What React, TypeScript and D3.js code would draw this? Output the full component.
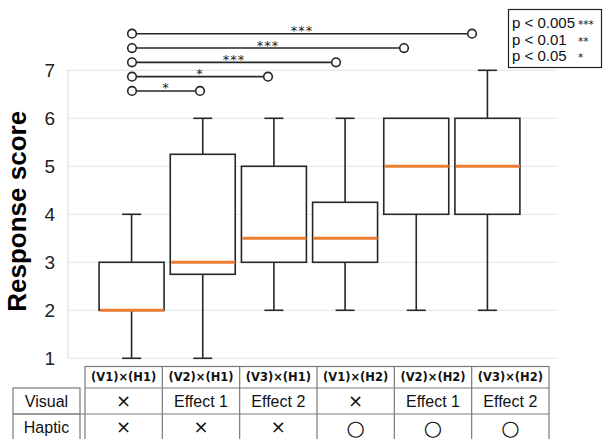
import React from "react";
import * as d3 from "d3";

const categories = ["(V1)×(H1)", "(V2)×(H1)", "(V3)×(H1)", "(V1)×(H2)", "(V2)×(H2)", "(V3)×(H2)"];
const mins = [1, 1, 2, 2, 2, 2];
const q1s = [2, 2.75, 3, 3, 4, 4];
const medians = [2, 3, 3.5, 3.5, 5, 5];
const q3s = [3, 5.25, 5, 4.25, 6, 6];
const maxs = [4, 6, 6, 6, 6, 7];
const yTicks = [1, 2, 3, 4, 5, 6, 7];
const visualRow = ["×", "Effect 1", "Effect 2", "×", "Effect 1", "Effect 2"];
const hapticRow = ["×", "×", "×", "○", "○", "○"];
const bracketTargets = [1, 2, 3, 4, 5];
const bracketLabels = ["*", "*", "***", "***", "***"];
const legendLabels = ["p < 0.005", "p < 0.01", "p < 0.05"];
const legendStars = ["***", "**", "*"];

const W = 603;
const H = 439;
const FONT = "'Liberation Sans', Arial, sans-serif";
const DJ = "'DejaVu Sans', sans-serif";

function symSize(s: string) {
  if (s === "○") return 21;
  if (s === "×") return 18;
  return 16;
}

export default function App() {
  const y = d3.scaleLinear().domain([1, 7]).range([358.3, 70.3]);
  const x = d3.scaleBand<number>().domain(d3.range(6)).range([96, 523]).paddingInner(0.087).paddingOuter(0.0435);
  const bx = d3.scaleLinear().domain([0, 5]).range([132, 472]);
  const tx = d3.scaleBand<number>().domain(d3.range(6)).range([85, 549]);
  const bw = x.bandwidth();
  const cap = 19;
  const stroke = "#262626";
  const plotL = 68;
  const plotR = 557;

  const headTop = 366.5, headBot = 388, visBot = 414, hapBot = 440;

  return (
    <svg width={W} height={H} style={{ position: "absolute", left: 0, top: 0, background: "#fff" }} fontFamily={FONT}>
      {yTicks.map((t) => (
        <line key={"g" + t} x1={plotL} x2={plotR} y1={y(t)} y2={y(t)} stroke="#e4e4e4" strokeWidth={1} />
      ))}
      <line x1={plotL} x2={plotL} y1={y(7)} y2={y(1)} stroke="#d9d9d9" strokeWidth={1} />
      {yTicks.map((t) => (
        <text key={"t" + t} x={55} y={y(t)} dy="0.35em" textAnchor="end" fontSize={19} fill="#222">
          {t}
        </text>
      ))}
      <text
        transform={`translate(${26},${y(4) - 3}) rotate(-90)`}
        textAnchor="middle"
        fontSize={26}
        fontWeight="bold"
        fill="#000"
      >
        Response score
      </text>

      {categories.map((c, i) => {
        const x0 = x(i)!;
        const cx = x0 + bw / 2;
        return (
          <g key={c}>
            {maxs[i] > q3s[i] && (
              <>
                <line x1={cx} x2={cx} y1={y(q3s[i])} y2={y(maxs[i])} stroke={stroke} strokeWidth={1.6} />
                <line x1={cx - cap / 2} x2={cx + cap / 2} y1={y(maxs[i])} y2={y(maxs[i])} stroke={stroke} strokeWidth={1.6} />
              </>
            )}
            {mins[i] < q1s[i] && (
              <>
                <line x1={cx} x2={cx} y1={y(q1s[i])} y2={y(mins[i])} stroke={stroke} strokeWidth={1.6} />
                <line x1={cx - cap / 2} x2={cx + cap / 2} y1={y(mins[i])} y2={y(mins[i])} stroke={stroke} strokeWidth={1.6} />
              </>
            )}
            <rect x={x0} y={y(q3s[i])} width={bw} height={y(q1s[i]) - y(q3s[i])} fill="#fff" stroke={stroke} strokeWidth={1.6} />
            <line x1={x0 + 1} x2={x0 + bw} y1={y(medians[i])} y2={y(medians[i])} stroke="#ED7D31" strokeWidth={3} />
          </g>
        );
      })}

      {bracketTargets.map((t, k) => {
        const yy = y(6.57 + 0.298 * k);
        const x1 = bx(0);
        const x2 = bx(t);
        return (
          <g key={"b" + k}>
            <line x1={x1} x2={x2} y1={yy} y2={yy} stroke={stroke} strokeWidth={1.6} />
            <circle cx={x1} cy={yy} r={4.3} fill="#fff" stroke={stroke} strokeWidth={1.6} />
            <circle cx={x2} cy={yy} r={4.3} fill="#fff" stroke={stroke} strokeWidth={1.6} />
            <text x={(x1 + x2) / 2} y={yy + 1.5} textAnchor="middle" fontSize={13} fontFamily={DJ} letterSpacing={1} fill="#222">
              {bracketLabels[k]}
            </text>
          </g>
        );
      })}

      <rect x={508.5} y={9.5} width={93} height={58} fill="#fff" stroke="#222" strokeWidth={1.2} />
      {legendLabels.map((l, i) => (
        <g key={l}>
          <text x={512} y={28 + i * 16.5} fontSize={15} fill="#111">
            {l}
          </text>
          <text x={578} y={28 + i * 16.5} fontSize={10.5} fontFamily={DJ} fill="#111">
            {legendStars[i]}
          </text>
        </g>
      ))}

      <g stroke="#7a7a7a" strokeWidth={1.2} fill="none">
        <rect x={tx(0)} y={headTop} width={tx(5)! + tx.bandwidth() - tx(0)!} height={hapBot - headTop} />
        <line x1={tx(0)} x2={tx(5)! + tx.bandwidth()} y1={headBot} y2={headBot} />
        <line x1={13} x2={tx(5)! + tx.bandwidth()} y1={visBot} y2={visBot} />
        {d3.range(1, 6).map((i) => (
          <line key={"c" + i} x1={tx(i)} x2={tx(i)} y1={headTop} y2={hapBot} />
        ))}
        <rect x={13} y={headBot} width={tx(0)! - 13 - 5} height={hapBot - headBot} />
        <line x1={13} x2={tx(0)! - 5} y1={visBot} y2={visBot} />
      </g>
      <text x={(13 + tx(0)! - 5) / 2} y={(headBot + visBot) / 2} dy="0.36em" textAnchor="middle" fontSize={16} fill="#111">
        Visual
      </text>
      <text x={(13 + tx(0)! - 5) / 2} y={(visBot + hapBot) / 2} dy="0.36em" textAnchor="middle" fontSize={16} fill="#111">
        Haptic
      </text>
      {categories.map((c, i) => {
        const cx = tx(i)! + tx.bandwidth() / 2;
        return (
          <g key={"tc" + i}>
            <text x={cx} y={(headTop + headBot) / 2} dy="0.36em" textAnchor="middle" fontSize={11.5} fontWeight="bold" fontFamily={DJ} fill="#111">
              {c}
            </text>
            <text x={cx} y={(headBot + visBot) / 2} dy="0.36em" textAnchor="middle" fontSize={symSize(visualRow[i])} fontFamily={visualRow[i].length === 1 ? DJ : FONT} fill="#111">
              {visualRow[i]}
            </text>
            <text x={cx} y={(visBot + hapBot) / 2} dy="0.36em" textAnchor="middle" fontSize={symSize(hapticRow[i])} fontFamily={DJ} fill="#111">
              {hapticRow[i]}
            </text>
          </g>
        );
      })}
    </svg>
  );
}
